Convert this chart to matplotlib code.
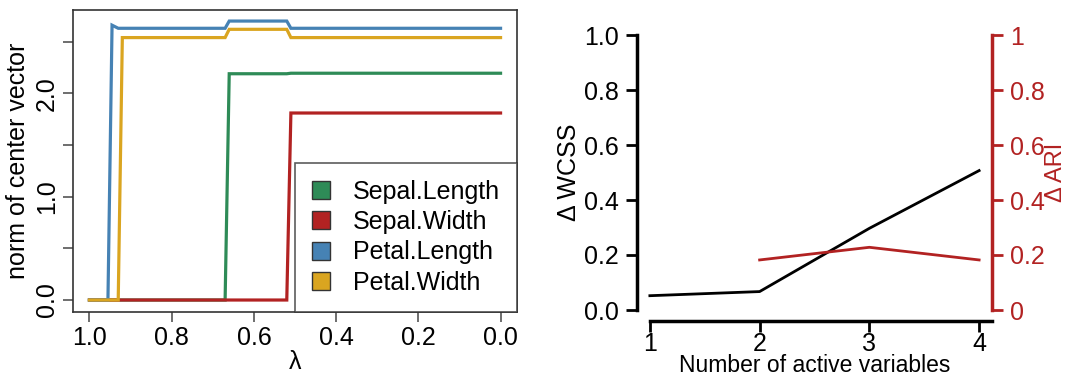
import matplotlib
matplotlib.use('Agg')
from matplotlib import pyplot as plt
from matplotlib.patches import Patch
import numpy as np

plt.rcParams['font.family'] = ['Liberation Sans', 'DejaVu Sans']
plt.rcParams['font.size'] = 18

# left panel: norm of center vector along the lambda path
lam = [1.00, 0.955, 0.945, 0.93, 0.92, 0.67, 0.66, 0.52, 0.51, 0.00]
sepal_length = [0, 0, 0, 0, 0, 0, 2.19, 2.19, 2.195, 2.195]
sepal_width = [0, 0, 0, 0, 0, 0, 0, 0, 1.81, 1.81]
petal_length = [0, 0, 2.66, 2.63, 2.63, 2.63, 2.70, 2.70, 2.63, 2.63]
petal_width = [0, 0, 0, 0, 2.54, 2.54, 2.62, 2.62, 2.54, 2.54]
names = ['Sepal.Length', 'Sepal.Width', 'Petal.Length', 'Petal.Width']
colors = ['#2E8B57', '#B22222', '#4682B4', '#DAA520']

# right panel
n_active = [1, 2, 3, 4]
d_wcss = [0.052, 0.067, 0.297, 0.507]
n_active_ari = [2, 3, 4]
d_ari = [0.182, 0.228, 0.182]

fig = plt.figure(figsize=(10.66, 3.72), dpi=100)
W, H = 1066, 372

# ---- left
ax = fig.add_axes([73/W, 1-312/H, (517-73)/W, (312-10)/H])
for y, c in zip([sepal_length, sepal_width, petal_length, petal_width], colors):
    ax.plot(lam, y, color=c, lw=2.3, solid_joinstyle='miter')
ax.set_xlim(1.04, -0.04)
ax.set_ylim(-0.116, 2.807)
ax.set_xticks([1.0, 0.8, 0.6, 0.4, 0.2, 0.0])
ax.set_xticklabels(['1.0', '0.8', '0.6', '0.4', '0.2', '0.0'])
ax.set_yticks(np.arange(0, 2.6, 0.5))
ax.set_yticklabels(['0.0', '', '1.0', '', '2.0', ''], rotation=90, va='center')
for s in ax.spines.values():
    s.set_color('#333333')
    s.set_linewidth(1.2)
ax.tick_params(color='#555555', length=7, width=1.2, pad=3)
ax.tick_params(axis='y', pad=3)
ax.set_xlabel('λ', labelpad=0)
ax.set_ylabel('norm of center vector', labelpad=4)
handles = [Patch(facecolor=c, edgecolor='#333333', lw=1) for c in colors]
leg = ax.legend(handles, names, loc='lower right', bbox_to_anchor=(1.0, 0.0),
                frameon=True, fancybox=False, borderpad=0.68, handlelength=0.72,
                handleheight=0.72, handletextpad=0.9, labelspacing=0.26,
                borderaxespad=0, fontsize=18)
leg.get_frame().set_edgecolor('#333333')
leg.get_frame().set_linewidth(1.2)

# ---- right
ax2 = fig.add_axes([636.7/W, 1-321/H, (992.3-636.7)/W, (321-24)/H])
ax2.plot(n_active, d_wcss, color='black', lw=2)
ax2.set_xlim(0.88, 4.12)
ax2.set_ylim(-0.04, 1.04)
ax2.set_xticks(n_active)
ax2.set_yticks([0, 0.2, 0.4, 0.6, 0.8, 1.0])
ax2.set_yticklabels(['0.0', '0.2', '0.4', '0.6', '0.8', '1.0'])
for k in ['top', 'right']:
    ax2.spines[k].set_visible(False)
ax2.spines['left'].set_bounds(0, 1)
ax2.spines['bottom'].set_bounds(1, 4.12)
ax2.spines['left'].set_linewidth(2.5)
ax2.spines['bottom'].set_linewidth(2.5)
ax2.tick_params(length=8, width=2)
ax2.tick_params(axis='x', pad=0)
ax2.tick_params(axis='y', pad=5)
ax2.set_xlabel('Number of active variables', labelpad=-1.5, fontsize=16.5)
ax2.set_ylabel('Δ WCSS', labelpad=2)

ax3 = ax2.twinx()
red = '#B22222'
ax3.plot(n_active_ari, d_ari, color=red, lw=2)
ax3.set_ylim(-0.04, 1.04)
ax3.set_yticks([0, 0.2, 0.4, 0.6, 0.8, 1.0])
ax3.set_yticklabels(['0', '0.2', '0.4', '0.6', '0.8', '1'])
for k in ['top', 'left', 'bottom']:
    ax3.spines[k].set_visible(False)
ax3.spines['right'].set_bounds(0, 1)
ax3.spines['right'].set_color(red)
ax3.spines['right'].set_linewidth(2.5)
ax3.tick_params(colors=red, length=8, width=2, pad=5)
ax3.set_ylabel('Δ ARI', color=red, labelpad=0, fontsize=17)

fig.savefig('out.png', dpi=100)
